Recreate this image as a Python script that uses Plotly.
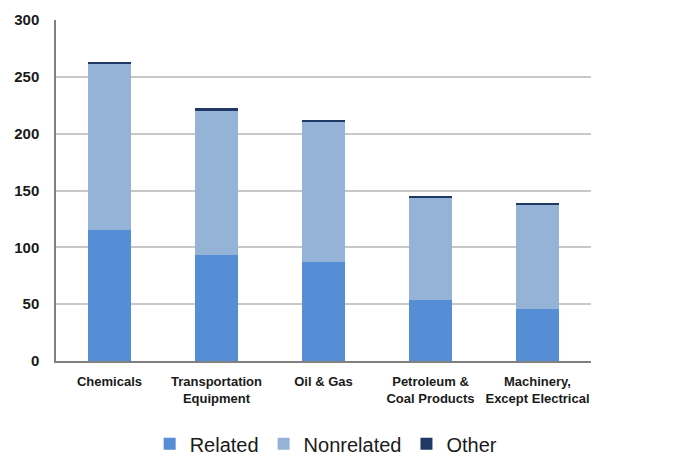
import plotly.graph_objects as go

categories = ["Chemicals", "Transportation<br>Equipment", "Oil & Gas",
              "Petroleum &<br>Coal Products", "Machinery,<br>Except Electrical"]
related = [115, 93, 87, 54, 46]
nonrelated = [146, 127, 124, 90, 91]
other = [2, 3, 1, 1, 2]

colors = {"Related": "#558ED5", "Nonrelated": "#95B3D7", "Other": "#1F3864"}

fig = go.Figure()
for name, vals in [("Related", related), ("Nonrelated", nonrelated), ("Other", other)]:
    fig.add_trace(go.Bar(x=categories, y=vals, name=name,
                         marker=dict(color=colors[name], line=dict(width=0))))

fig.update_layout(
    barmode="stack",
    bargap=0.6,
    width=667, height=448,
    margin=dict(l=48, r=84, t=12, b=95, autoexpand=False),
    plot_bgcolor="white", paper_bgcolor="white",
    font=dict(family="Liberation Sans, Arial, sans-serif", color="#1a1a1a"),
    legend=dict(orientation="h", x=0.505, xanchor="center", y=-0.243, yanchor="middle",
                font=dict(size=20, color="#1a1a1a"), traceorder="normal",
                itemwidth=30),
    showlegend=True,
)
fig.update_xaxes(showline=True, linecolor="#808080", linewidth=1.5, automargin=False,
                 tickfont=dict(size=13), ticklabelstandoff=8,
                 ticks="", tickprefix="<b>", ticksuffix="</b>")
fig.update_yaxes(range=[0, 300], dtick=50, showgrid=True, gridcolor="#C8C8C8", gridwidth=1.5,
                 showline=True, linecolor="#808080", linewidth=1.5, zeroline=False,
                 automargin=False,
                 tickfont=dict(size=15), tickprefix="<b>", ticksuffix="</b>",
                 ticks="", ticklabelstandoff=12)

fig.write_html("out.html")
